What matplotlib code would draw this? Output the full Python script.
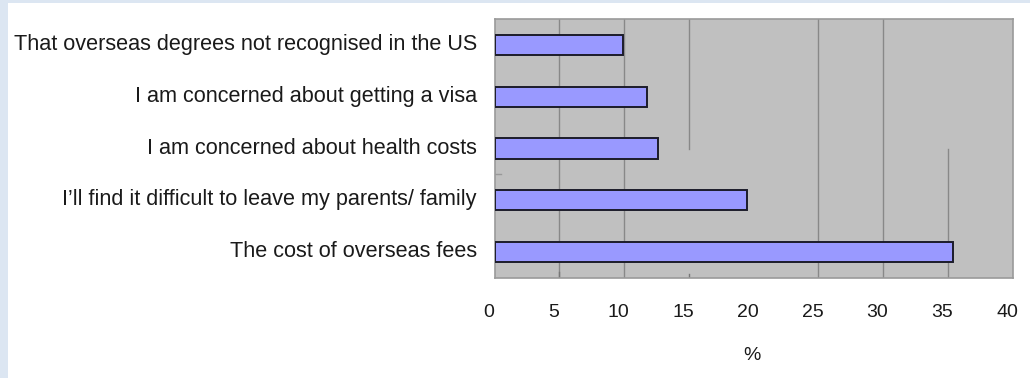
import matplotlib
matplotlib.use("Agg")
import matplotlib.pyplot as plt
import matplotlib.transforms as mtransforms
from matplotlib.patches import Rectangle

# Survey responses: reasons for not studying overseas (% of respondents)
REASONS = [
    "That overseas degrees not recognised in the US",
    "I am concerned about getting a visa",
    "I am concerned about health costs",
    "I\u2019ll find it difficult to leave my parents/ family",
    "The cost of overseas fees",
]
PERCENT = [9.9, 11.8, 12.6, 19.5, 35.4]
X_TICKS = [0, 5, 10, 15, 20, 25, 30, 35, 40]

plt.rcParams['font.family'] = ['Liberation Sans', 'DejaVu Sans']

fig = plt.figure(figsize=(10.3, 3.78), dpi=100)
fig.patch.set_facecolor("white")

# pale blue frame along the left and top edge
fig.patches.append(Rectangle((0, 0), 8 / 1030, 1, transform=fig.transFigure,
                             facecolor="#dce6f2", edgecolor="none", zorder=0))
fig.patches.append(Rectangle((0, 1 - 3 / 378), 1, 3 / 378, transform=fig.transFigure,
                             facecolor="#dce6f2", edgecolor="none", zorder=0))

ax = fig.add_axes([494.5 / 1030, 1 - 277.7 / 378, 518 / 1030, 258.4 / 378])
ax.set_facecolor("#c0c0c0")

y = list(range(len(REASONS)))
ax.barh(y, PERCENT, height=0.39, color="#9999ff", edgecolor="#1c1c2a",
        linewidth=1.4, zorder=3)

ax.set_xlim(0, 40)
ax.set_ylim(len(REASONS) - 0.5, -0.5)

# gridlines, some only partly drawn
grid_kw = dict(color="#888888", linewidth=1.0, zorder=1)
for gx in [5, 10, 25, 30]:
    ax.axvline(gx, **grid_kw)
ax.axvline(15, ymin=0.50, ymax=1, **grid_kw)
ax.axvline(35, ymin=0, ymax=0.497, **grid_kw)
ax.axvline(5, ymin=0, ymax=0.023, color="#777777", linewidth=1.0, zorder=1)
ax.axvline(15, ymin=0, ymax=0.013, color="#777777", linewidth=1.0, zorder=1)
ax.axhline(2.5, xmin=0, xmax=0.0135, color="#999999", linewidth=1.0, zorder=1)

for side in ["left", "right", "top", "bottom"]:
    ax.spines[side].set_color("#9a9a9a")
    ax.spines[side].set_linewidth(1.2)

ax.set_yticks(y)
ax.set_yticklabels(REASONS, fontsize=15.6, color="#1a1a1a")
ax.set_xticks(X_TICKS)
ax.set_xticklabels([str(t) for t in X_TICKS], fontsize=14, color="#1a1a1a")
ax.tick_params(axis="y", length=0, pad=12.6)
ax.tick_params(axis="x", length=0, pad=19)

# axis numbers sit a little left of their gridlines, category names a bit high
shift_x = mtransforms.ScaledTranslation(-5.5 / 100, 0, fig.dpi_scale_trans)
for lbl in ax.get_xticklabels():
    lbl.set_transform(lbl.get_transform() + shift_x)
shift_y = mtransforms.ScaledTranslation(0, 3 / 100, fig.dpi_scale_trans)
for lbl in ax.get_yticklabels():
    lbl.set_transform(lbl.get_transform() + shift_y)

fig.text(752 / 1030, 1 - 356 / 378, "%", fontsize=14, color="#1a1a1a",
         ha="center", va="center")

fig.savefig("out.png", dpi=100)
